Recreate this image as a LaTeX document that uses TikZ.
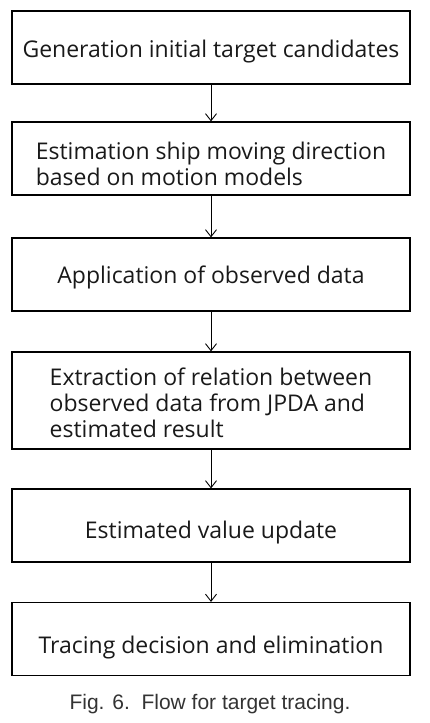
\documentclass[tikz,border=0pt]{standalone}
\usepackage{fontspec}
\setmainfont{Open Sans}
\newfontfamily\capfont{Liberation Sans}
\usetikzlibrary{arrows.meta}
\newcommand{\lowr}[2]{\raisebox{-#1}[\height][\depth]{#2}}
\tikzset{
  stepbox/.style={draw=black, line width=1.2pt, minimum width=398pt, minimum height=73pt,
    inner sep=0pt, align=left, font=\fontsize{23}{26}\selectfont, text=black!90},
  flow/.style={draw=black, line width=0.9pt, -{Straight Barb[length=7pt,width=11pt,line width=0.9pt]}}
}
\begin{document}
\begin{tikzpicture}[x=1pt,y=1pt]
\useasboundingbox (0,0) rectangle (430,-723);
\node[stepbox] (b1) at (211,-47.5) {\lowr{4pt}{Generation initial target candidates}};
\node[stepbox] (b2) at (211,-158.5) {\lowr{9pt}{\begin{tabular}{@{}l@{}}Estimation ship moving direction\\based on motion models\end{tabular}}};
\node[stepbox] (b3) at (211,-274.5) {\lowr{2.5pt}{Application of observed data}};
\node[stepbox, minimum height=97pt] (b4) at (211,-400.5) {\lowr{6pt}{\begin{tabular}{@{}l@{}}Extraction of relation between\\observed data from JPDA and\\estimated result\end{tabular}}};
\node[stepbox] (b5) at (211,-525.5) {\lowr{7pt}{Estimated value update}};
\node[stepbox] (b6) at (211,-639) {\lowr{9pt}{Tracing decision and elimination}};
\draw[flow] (b1.south) -- (b2.north);
\draw[flow] (b2.south) -- (b3.north);
\draw[flow] (b3.south) -- (b4.north);
\draw[flow] (b4.south) -- (b5.north);
\draw[flow] (b5.south) -- (b6.north);
\node[font=\capfont\fontsize{21}{24}\selectfont, text=black!80, inner sep=0pt] (cap) at (210,-704) {Fig. 6.\ \ Flow for target tracing.};
\end{tikzpicture}
\end{document}
